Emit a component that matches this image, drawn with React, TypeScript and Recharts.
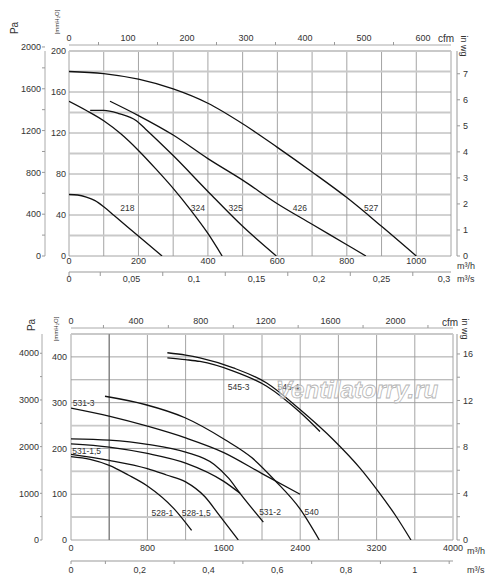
import React from "react";
import {ComposedChart, Line, XAxis, YAxis, CartesianGrid, ReferenceLine, ReferenceDot} from "recharts";

const FONT = "'Liberation Sans', Arial, sans-serif";
const PA = 9.80665;     // Pa per mmH2O
const INWG = 25.4;      // mmH2O per in wg
const CFM = 1.699011;   // m3/h per cfm

// ---- upper chart: flow m3/h, pressure mmH2O ----
const fan218 = [[0, 60], [25, 59.5], [50, 57.5], [75, 54], [100, 48], [130, 39.5], [198, 20], [268, 0]];
const fan324 = [[0, 151], [50, 142], [100, 132], [150, 119], [200, 103], [250, 85], [300, 66], [350, 45], [400, 22], [441, 0]];
const fan325 = [[61, 142], [100, 142], [143, 139], [194, 132], [220, 124], [300, 98], [400, 63], [500, 29], [597, 0]];
const fan426 = [[118, 151], [200, 137], [300, 118], [400, 95], [500, 74], [600, 51], [700, 31], [800, 11], [855, 0]];
const fan527 = [[0, 180], [100, 178], [200, 172.5], [300, 163], [400, 149], [500, 129], [600, 106], [700, 82], [800, 57], [900, 29], [1000, 0]];

const topQTicks = [0, 100, 200, 300, 400, 500, 600, 700, 800, 900, 1000, 1100];
const topMmTicks = [0, 20, 40, 60, 80, 100, 120, 140, 160, 180, 200];
const topPaTicks = [0, 200, 400, 600, 800, 1000, 1200, 1400, 1600, 1800, 2000];
const topInTicks = [0, 1, 2, 3, 4, 5, 6, 7];
const topCfmTicks = [0, 50, 100, 150, 200, 250, 300, 350, 400, 450, 500, 550, 600];
const topM3sTicks = [0, 0.025, 0.05, 0.075, 0.1, 0.125, 0.15, 0.175, 0.2, 0.225, 0.25, 0.275, 0.3];
const topLight = [20, 60, 100, 140, 180, 200];
const topNames = [
  {t: "218", q: 168, p: 47}, {t: "324", q: 371, p: 47}, {t: "325", q: 480, p: 47},
  {t: "426", q: 665, p: 47}, {t: "527", q: 870, p: 47},
];

// ---- lower chart ----
const fan528_1 = [[0, 182], [200, 176], [400, 163], [600, 142], [800, 118], [1080, 68], [1263, 21]];
const fan528_15 = [[0, 187], [400, 174], [800, 156], [1000, 142], [1200, 127], [1400, 95], [1550, 55], [1752, 0]];
const fan531_15 = [[0, 210], [400, 203], [800, 189], [1200, 168], [1600, 128], [1770, 102]];
const fan531_2 = [[0, 221], [400, 218], [800, 209], [1200, 192], [1500, 165], [1650, 135], [1770, 102], [1900, 68], [2014, 39]];
const fan531_3 = [[0, 288], [408, 270], [810, 248], [1200, 223], [1600, 191], [2000, 145], [2398, 100]];
const fan540 = [[356, 314], [775, 296], [1194, 267], [1613, 219], [1892, 180], [2136, 130], [2398, 68], [2600, 0]];
const fan545_3 = [[1009, 398], [1200, 394], [1350, 390], [1700, 369], [2049, 336], [2398, 279], [2607, 237]];
const fan545_4 = [[1009, 409], [1200, 404], [1350, 398], [1700, 376], [2049, 343], [2398, 285], [2747, 219], [3026, 157], [3211, 108], [3400, 53], [3560, 0]];

const botQTicks = [0, 400, 800, 1200, 1600, 2000, 2400, 2800, 3200, 3600, 4000];
const botMmTicks = [0, 50, 100, 150, 200, 250, 300, 350, 400, 450];
const botPaTicks = [0, 500, 1000, 1500, 2000, 2500, 3000, 3500, 4000];
const botInTicks = [0, 2, 4, 6, 8, 10, 12, 14, 16];
const botCfmTicks = [0, 200, 400, 600, 800, 1000, 1200, 1400, 1600, 1800, 2000, 2200];
const botM3sTicks = [0, 0.1, 0.2, 0.3, 0.4, 0.5, 0.6, 0.7, 0.8, 0.9, 1, 1.1];
const botLight = [50, 150, 250, 450];
const botNames = [
  {t: "531-3", q: 133, p: 299}, {t: "531-1,5", q: 164, p: 194}, {t: "528-1", q: 958, p: 59},
  {t: "528-1,5", q: 1312, p: 59}, {t: "531-2", q: 2084, p: 62}, {t: "540", q: 2520, p: 62},
  {t: "545-3", q: 1756, p: 334}, {t: "545-4", q: 2276, p: 334},
];

// rows carry the flow in all three units so every x axis has a series to read
const toRows = (pts: number[][]) => pts.map(([q, p]) => ({q, s: q / 3600, c: q / CFM, p}));
const isStep = (v: number, step: number) => Math.abs(v / step - Math.round(v / step)) < 1e-6;
const comma = (v: number) => String(Number(v.toFixed(3))).replace(".", ",");

function TopTick(props: any) {
  const {x, y, payload, every} = props;
  const v = payload?.value ?? 0;
  if (isStep(v, every)) {
    return <text x={x} y={y - 4} textAnchor="middle" fontSize={9} fill="#333" fontFamily={FONT}>{comma(v)}</text>;
  }
  return <line x1={x} y1={y} x2={x} y2={y - 3} stroke="#999" />;
}

function BottomTick(props: any) {
  const {x, y, payload, every, len, gap} = props;
  const v = payload?.value ?? 0;
  const label = isStep(v, every);
  return (
    <g>
      {(!label || v === 0) && <line x1={x} y1={y} x2={x} y2={y + len} stroke="#999" />}
      {label && <text x={x} y={y + gap} dy="0.71em" textAnchor="middle" fontSize={9} fill="#333" fontFamily={FONT}>{comma(v)}</text>}
    </g>
  );
}

type PanelProps = {
  qMax: number, mmMax: number,
  qTicks: number[], qEvery: number, qGap: number, qH: number,
  mmTicks: number[], mmEvery: number, mmW: number, mmGap: number,
  paTicks: number[], paEvery: number, paTick: number,
  inTicks: number[], inEvery: number, spR: number,
  cfmTicks: number[], cfmEvery: number, cfmH: number,
  m3sTicks: number[], m3sEvery: number, m3sH: number, m3sLen: number, m3sGap: number,
  light: number[], dark?: number[],
  curves: number[][][], names: {t: string, q: number, p: number}[],
  margin: {top: number, right: number, bottom: number, left: number},
};

function Panel(c: PanelProps) {
  const tickStyle = {fill: "#333", fontSize: 9, fontFamily: FONT};
  const widest = toRows(c.curves[c.curves.length - 1]);
  return (
    <ComposedChart width={500} height={292} margin={c.margin}>
      <XAxis xAxisId="a_q" dataKey="q" type="number" domain={[0, c.qMax]} allowDataOverflow
             ticks={c.qTicks} interval={0} height={c.qH} axisLine={false} tickLine={false}
             tickSize={0} tickMargin={c.qGap} tick={tickStyle}
             tickFormatter={(v: number) => (isStep(v, c.qEvery) ? String(v) : "")} />
      <XAxis xAxisId="b_m3s" dataKey="s" type="number" domain={[0, c.qMax / 3600]} allowDataOverflow
             ticks={c.m3sTicks} interval={0} height={c.m3sH} axisLine={{stroke: "#999"}} tickLine={false}
             tickSize={0} tickMargin={0}
             tick={(p: any) => <BottomTick {...p} every={c.m3sEvery} len={c.m3sLen} gap={c.m3sGap} />} />
      <XAxis xAxisId="a_spT" orientation="top" type="number" domain={[0, 1]} height={6}
             tick={false} axisLine={false} tickLine={false} />
      <XAxis xAxisId="b_cfm" dataKey="c" orientation="top" type="number" domain={[0, c.qMax / CFM]} allowDataOverflow
             ticks={c.cfmTicks} interval={0} height={c.cfmH} axisLine={{stroke: "#aaa"}} tickLine={false}
             tickSize={0} tickMargin={0}
             tick={(p: any) => <TopTick {...p} every={c.cfmEvery} />} />
      <YAxis yAxisId="a_mm" type="number" domain={[0, c.mmMax]} allowDataOverflow
             ticks={c.mmTicks} interval={0} width={c.mmW} axisLine={false} tickLine={false}
             tickSize={0} tickMargin={c.mmGap} tick={tickStyle}
             tickFormatter={(v: number) => (isStep(v, c.mmEvery) ? String(v) : "")} />
      <YAxis yAxisId="b_pa" type="number" domain={[0, c.mmMax * PA]} allowDataOverflow
             ticks={c.paTicks} interval={0} width={30} axisLine={{stroke: "#aaa"}} tickLine={{stroke: "#999"}}
             tickSize={c.paTick} tickMargin={1} tick={tickStyle}
             tickFormatter={(v: number) => (isStep(v, c.paEvery) ? String(v) : "")} />
      <YAxis yAxisId="a_spR" orientation="right" type="number" domain={[0, 1]} width={c.spR}
             tick={false} axisLine={false} tickLine={false} />
      <YAxis yAxisId="b_in" orientation="right" type="number" domain={[0, c.mmMax / INWG]} allowDataOverflow
             ticks={c.inTicks} interval={0} width={23} axisLine={{stroke: "#999"}} tickLine={{stroke: "#999"}}
             tickSize={3} tickMargin={3} tick={tickStyle}
             tickFormatter={(v: number) => (isStep(v, c.inEvery) ? String(v) : "")} />
      <CartesianGrid xAxisId="a_q" yAxisId="a_mm" stroke="#9a9a9a" strokeWidth={0.9} />
      {c.light.map((v) => (
        <ReferenceLine key={"l" + v} xAxisId="a_q" yAxisId="a_mm" y={v} stroke="#c9c9c9" strokeWidth={1.8} />
      ))}
      {(c.dark ?? []).map((v) => (
        <ReferenceLine key={"d" + v} xAxisId="a_q" yAxisId="a_mm" x={v} stroke="#707070" strokeWidth={1} />
      ))}
      {/* same curve read against the m3/s and cfm scales, drawn without stroke */}
      <Line data={widest} dataKey="p" xAxisId="b_m3s" yAxisId="a_mm" stroke="none" dot={false}
            activeDot={false} isAnimationActive={false} />
      <Line data={widest} dataKey="p" xAxisId="b_cfm" yAxisId="a_mm" stroke="none" dot={false}
            activeDot={false} isAnimationActive={false} />
      {c.curves.map((pts, i) => (
        <Line key={i} data={toRows(pts)} dataKey="p" xAxisId="a_q" yAxisId="a_mm" type="monotone"
              stroke="#111" strokeWidth={1.3} dot={false} activeDot={false} isAnimationActive={false} />
      ))}
      {c.names.map((n) => (
        <ReferenceDot key={n.t} xAxisId="a_q" yAxisId="a_mm" x={n.q} y={n.p} r={1} fill="none" stroke="none"
                      label={{value: n.t, position: "center", fontSize: 8.5, fill: "#333", fontFamily: FONT}} />
      ))}
    </ComposedChart>
  );
}

export default function App() {
  const title = {fontFamily: FONT, fill: "#333"};
  return (
    <div style={{position: "absolute", left: 0, top: 0, width: 500, height: 584, background: "#fff"}}>
      <div style={{position: "absolute", left: 0, top: 0}}>
        <Panel qMax={1100} mmMax={200}
               qTicks={topQTicks} qEvery={200} qGap={2} qH={16}
               mmTicks={topMmTicks} mmEvery={40} mmW={24} mmGap={3}
               paTicks={topPaTicks} paEvery={400} paTick={3}
               inTicks={topInTicks} inEvery={1} spR={6}
               cfmTicks={topCfmTicks} cfmEvery={100} cfmH={25}
               m3sTicks={topM3sTicks} m3sEvery={0.05} m3sH={16} m3sLen={4} m3sGap={4}
               light={topLight}
               curves={[fan218, fan324, fan325, fan426, fan527]} names={topNames}
               margin={{top: 20, right: 20, bottom: 4, left: 15}} />
      </div>
      <div style={{position: "absolute", left: 0, top: 292}}>
        <Panel qMax={4000} mmMax={450}
               qTicks={botQTicks} qEvery={800} qGap={5} qH={21}
               mmTicks={botMmTicks} mmEvery={100} mmW={29} mmGap={4}
               paTicks={botPaTicks} paEvery={1000} paTick={2}
               inTicks={botInTicks} inEvery={4} spR={4}
               cfmTicks={botCfmTicks} cfmEvery={400} cfmH={20}
               m3sTicks={botM3sTicks} m3sEvery={0.2} m3sH={14} m3sLen={3} m3sGap={6}
               light={botLight} dark={[400]}
               curves={[fan528_1, fan528_15, fan531_15, fan531_2, fan531_3, fan540, fan545_3, fan545_4]} names={botNames}
               margin={{top: 16, right: 20, bottom: 9, left: 12}} />
      </div>
      <svg width={500} height={584} style={{position: "absolute", left: 0, top: 0, pointerEvents: "none"}}>
        <text x={276} y={398} fontSize={24} fontStyle="italic" fontWeight="bold" fontFamily={FONT}
              fill="rgba(255,255,255,0.55)" stroke="#b5b5b5" strokeWidth={0.8}>Ventilatorry.ru</text>
        {/* upper chart titles */}
        <text {...title} fontSize={10} textAnchor="middle" transform="translate(18,28) rotate(-90)">Pa</text>
        <text {...title} fontSize={6} textAnchor="middle" transform="translate(59,22) rotate(-90)">[mmH₂O]</text>
        <text {...title} fontSize={10} textAnchor="middle" x={446} y={42}>cfm</text>
        <text {...title} fontSize={9} textAnchor="middle" transform="translate(461,46) rotate(90)">in wg</text>
        <text {...title} fontSize={9} x={457} y={269}>m³/h</text>
        <text {...title} fontSize={9} x={457} y={282}>m³/s</text>
        {/* lower chart titles */}
        <text {...title} fontSize={10} textAnchor="middle" transform="translate(35,325) rotate(-90)">Pa</text>
        <text {...title} fontSize={6} textAnchor="middle" transform="translate(57.5,329) rotate(-90)">[mmH₂O]</text>
        <text {...title} fontSize={10} textAnchor="middle" x={450} y={326}>cfm</text>
        <text {...title} fontSize={9} textAnchor="middle" transform="translate(462,329) rotate(90)">in wg</text>
        <text {...title} fontSize={9} x={467} y={554}>m³/h</text>
        <text {...title} fontSize={9} x={467} y={573}>m³/s</text>
      </svg>
    </div>
  );
}
